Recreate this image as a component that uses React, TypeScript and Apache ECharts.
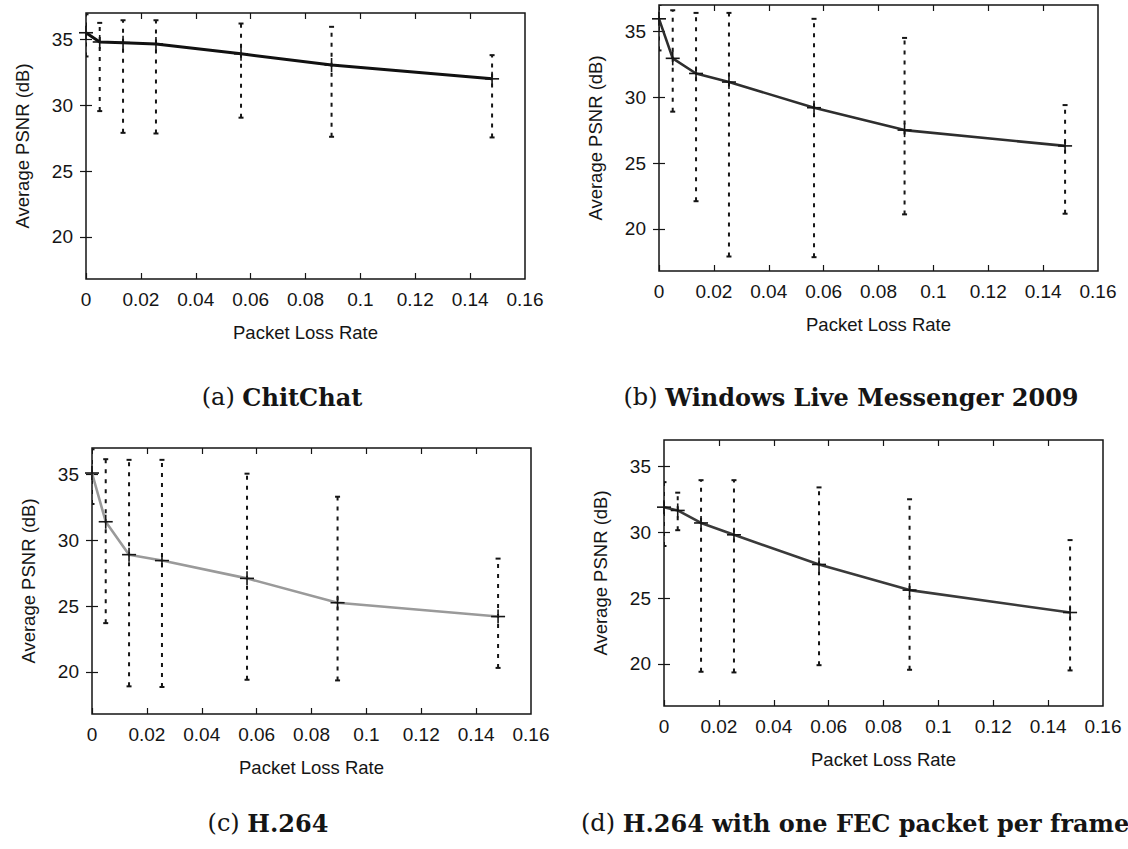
import React, { useEffect, useRef } from "react";
import * as echarts from "echarts";

// Packet loss rates (shared by all four panels)
const lossRates = [0, 0.005, 0.0135, 0.0255, 0.0565, 0.0895, 0.148];

// (a) ChitChat
const chitchatMean = [35.5, 34.8, 34.75, 34.65, 33.9, 33.05, 32.0];
const chitchatHigh = [36.9, 36.25, 36.45, 36.45, 36.2, 35.95, 33.8];
const chitchatLow = [33.7, 29.55, 27.9, 27.85, 29.05, 27.6, 27.55];

// (b) Windows Live Messenger 2009
const wlmMean = [35.95, 32.95, 31.8, 31.15, 29.2, 27.5, 26.3];
const wlmHigh = [37.0, 36.6, 36.4, 36.4, 35.95, 34.5, 29.4];
const wlmLow = [33.55, 28.9, 22.1, 17.9, 17.85, 21.1, 21.15];

// (c) H.264
const h264Mean = [35.1, 31.4, 28.9, 28.45, 27.1, 25.25, 24.2];
const h264High = [36.9, 36.15, 36.1, 36.1, 35.05, 33.3, 28.6];
const h264Low = [32.75, 23.7, 18.9, 18.85, 19.4, 19.35, 20.3];

// (d) H.264 with one FEC packet per frame
const fecMean = [31.9, 31.65, 30.7, 29.8, 27.55, 25.6, 23.9];
const fecHigh = [33.8, 33.0, 33.95, 33.95, 33.4, 32.5, 29.4];
const fecLow = [28.95, 30.15, 19.4, 19.35, 19.9, 19.55, 19.5];

const xTicks = [0, 0.02, 0.04, 0.06, 0.08, 0.1, 0.12, 0.14, 0.16];
const yTicks = [20, 25, 30, 35];

const captions = [
  { tag: "(a) ", title: "ChitChat" },
  { tag: "(b) ", title: "Windows Live Messenger 2009" },
  { tag: "(c) ", title: "H.264" },
  { tag: "(d) ", title: "H.264 with one FEC packet per frame" },
];

const xAxisTitle = "Packet Loss Rate";
const yAxisTitle = "Average PSNR (dB)";

const panels = [
  { mean: chitchatMean, high: chitchatHigh, low: chitchatLow, color: "#111111", width: 3 },
  { mean: wlmMean, high: wlmHigh, low: wlmLow, color: "#2e2e2e", width: 2.6 },
  { mean: h264Mean, high: h264High, low: h264Low, color: "#9a9a9a", width: 2.6 },
  { mean: fecMean, high: fecHigh, low: fecLow, color: "#3a3a3a", width: 2.6 },
];

// layout of the four plot boxes (pixels)
const boxes = [
  { left: 86, top: 13 },
  { left: 659, top: 5 },
  { left: 92, top: 448 },
  { left: 664, top: 440 },
];
const BOX_W = 439;
const BOX_H = 266;
const Y_MIN = 16.8;
const Y_MAX = 37;

const captionPos = [
  { x: 282, y: 397, align: "center" },
  { x: 851, y: 397, align: "center" },
  { x: 268, y: 823, align: "center" },
  { x: 581, y: 823, align: "left" },
];

const LABEL_FONT = "'Liberation Sans', Arial, Helvetica, sans-serif";
const SERIF = "'DejaVu Serif', 'Liberation Serif', serif";
const INK = "#151515";

function buildOption() {
  const grid: any[] = [];
  const xAxis: any[] = [];
  const yAxis: any[] = [];
  const series: any[] = [];

  panels.forEach((p, i) => {
    const b = boxes[i];
    grid.push({
      left: b.left,
      top: b.top,
      width: BOX_W,
      height: BOX_H,
      show: true,
      borderColor: INK,
      borderWidth: 1.5,
      backgroundColor: "transparent",
    });
    const xBase = {
      type: "value",
      gridIndex: i,
      min: 0,
      max: 0.16,
      splitLine: { show: false },
      axisLine: { show: false },
    };
    xAxis.push({
      ...xBase,
      position: "bottom",
      name: xAxisTitle,
      nameLocation: "middle",
      nameGap: 44,
      nameTextStyle: { fontFamily: LABEL_FONT, fontSize: 18.5, color: INK },
      axisTick: { show: true, inside: true, length: 6, customValues: xTicks.slice(0, 8), lineStyle: { color: INK, width: 1.2 } },
      axisLabel: {
        customValues: xTicks,
        margin: 11,
        fontFamily: LABEL_FONT,
        fontSize: 19,
        color: INK,
        formatter: (v: number) => String(+v.toFixed(2)),
      },
    });
    xAxis.push({
      ...xBase,
      position: "top",
      axisTick: { show: true, inside: true, length: 6, customValues: xTicks.slice(1, 8), lineStyle: { color: INK, width: 1.2 } },
      axisLabel: { show: false },
    });
    const yBase = {
      type: "value",
      gridIndex: i,
      min: Y_MIN,
      max: Y_MAX,
      splitLine: { show: false },
      axisLine: { show: false },
    };
    yAxis.push({
      ...yBase,
      position: "left",
      name: yAxisTitle,
      nameLocation: "middle",
      nameRotate: 90,
      nameGap: 54,
      nameTextStyle: { fontFamily: LABEL_FONT, fontSize: 18.5, color: INK },
      axisTick: { show: true, inside: true, length: 6, customValues: yTicks, lineStyle: { color: INK, width: 1.2 } },
      axisLabel: {
        customValues: yTicks,
        margin: 13,
        fontFamily: LABEL_FONT,
        fontSize: 19,
        color: INK,
      },
    });
    yAxis.push({
      ...yBase,
      position: "right",
      axisTick: { show: true, inside: true, length: 6, customValues: yTicks, lineStyle: { color: INK, width: 1.2 } },
      axisLabel: { show: false },
    });

    const errData = lossRates.map((x, k) => [x, p.low[k], p.high[k]]);
    const lineData = lossRates.map((x, k) => [x, p.mean[k]]);

    series.push({
      type: "custom",
      xAxisIndex: i * 2,
      yAxisIndex: i * 2,
      clip: true,
      z: 2,
      encode: { x: 0, y: [1, 2] },
      data: errData,
      renderItem: (_params: any, api: any) => {
        const x = api.value(0);
        const lo = api.coord([x, api.value(1)]);
        const hi = api.coord([x, api.value(2)]);
        const cap = 2.5;
        const st = { stroke: INK, lineWidth: 2 };
        return {
          type: "group",
          children: [
            {
              type: "line",
              shape: { x1: lo[0], y1: lo[1], x2: hi[0], y2: hi[1] },
              style: { stroke: INK, lineWidth: 2, lineDash: [4, 6] },
            },
            { type: "line", shape: { x1: lo[0] - cap, y1: lo[1], x2: lo[0] + cap, y2: lo[1] }, style: st },
            { type: "line", shape: { x1: hi[0] - cap, y1: hi[1], x2: hi[0] + cap, y2: hi[1] }, style: st },
          ],
        };
      },
    });
    series.push({
      type: "line",
      xAxisIndex: i * 2,
      yAxisIndex: i * 2,
      z: 3,
      data: lineData,
      showSymbol: false,
      symbol: "none",
      lineStyle: { color: p.color, width: p.width },
    });
    series.push({
      type: "custom",
      xAxisIndex: i * 2,
      yAxisIndex: i * 2,
      z: 4,
      encode: { x: 0, y: 1 },
      data: lineData,
      renderItem: (_params: any, api: any) => {
        const c = api.coord([api.value(0), api.value(1)]);
        const h = 7;
        const st = { stroke: INK, lineWidth: 1.6 };
        return {
          type: "group",
          children: [
            { type: "line", shape: { x1: c[0] - h, y1: c[1], x2: c[0] + h, y2: c[1] }, style: st },
            { type: "line", shape: { x1: c[0], y1: c[1] - h, x2: c[0], y2: c[1] + h }, style: st },
          ],
        };
      },
    });
  });

  const graphic = captions.map((c, i) => ({
    type: "text",
    x: captionPos[i].x,
    y: captionPos[i].y,
    style: {
      text: `{n|${c.tag}}{b|${c.title}}`,
      textAlign: captionPos[i].align,
      textVerticalAlign: "middle",
      rich: {
        n: { fontFamily: SERIF, fontSize: 24, fontWeight: "normal", fill: INK },
        b: { fontFamily: SERIF, fontSize: 24, fontWeight: "bold", fill: INK },
      },
    },
  }));

  return {
    animation: false,
    backgroundColor: "#ffffff",
    grid,
    xAxis,
    yAxis,
    series,
    graphic,
  };
}

export default function App() {
  const ref = useRef<HTMLDivElement>(null);
  useEffect(() => {
    if (!ref.current) return;
    const chart = echarts.init(ref.current, undefined, { renderer: "svg" });
    chart.setOption(buildOption() as any);
    return () => chart.dispose();
  }, []);
  return (
    <div
      ref={ref}
      style={{ position: "absolute", left: 0, top: 0, width: 1128, height: 849, background: "#fff" }}
    />
  );
}
